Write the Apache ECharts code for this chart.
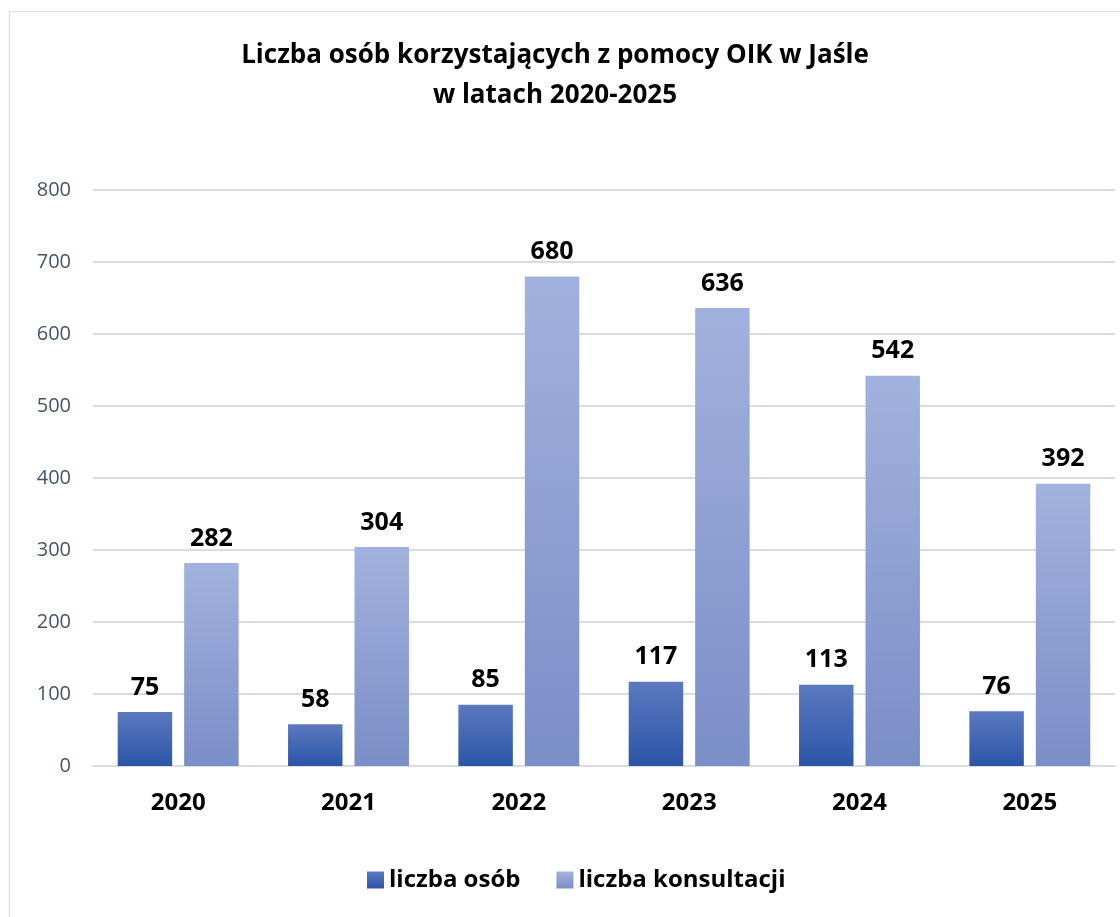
<!DOCTYPE html>
<html><head><meta charset="utf-8">
<script src="https://cdn.jsdelivr.net/npm/echarts@6/dist/echarts.min.js"></script>
<style>html,body{margin:0;padding:0;background:#fff}#c{width:1120px;height:917px}</style>
</head><body><div id="c"></div>
<script>
const years = ['2020','2021','2022','2023','2024','2025'];
const osob = [75, 58, 85, 117, 113, 76];
const konsultacji = [282, 304, 680, 636, 542, 392];
const yTicks = [0, 100, 200, 300, 400, 500, 600, 700, 800];

const FONT = '"Open Sans", "Noto Sans", sans-serif';
const chart = echarts.init(document.getElementById('c'), null, {renderer: 'canvas'});
const grad = (top, bottom) => new echarts.graphic.LinearGradient(0, 0, 0, 1, [{offset: 0, color: top}, {offset: 1, color: bottom}]);
const lbl = {show: true, position: 'top', distance: 12, color: '#000', fontWeight: 'bold', fontSize: 25, fontFamily: FONT};
chart.setOption({
  backgroundColor: '#fff',
  animation: false,
  graphic: [{type: 'rect', shape: {x: 9.5, y: 11.5, width: 1200, height: 1000}, style: {fill: 'none', stroke: '#dde2e8', lineWidth: 1.5}, z: -1}],
  title: {
    text: 'Liczba osób korzystających z pomocy OIK w Jaśle\nw latach 2020-2025',
    left: 550, textAlign: 'center', top: 31,
    textStyle: {fontFamily: FONT, fontWeight: 'bold', fontSize: 26, color: '#000', lineHeight: 40}
  },
  legend: {
    bottom: 20, left: 362, itemWidth: 17, itemHeight: 17, itemGap: 36,
    icon: 'rect',
    textStyle: {fontFamily: FONT, fontWeight: 'bold', fontSize: 24, color: '#000'}
  },
  grid: {left: 93, right: 5, top: 190, bottom: 151, containLabel: false},
  xAxis: {
    type: 'category', data: years,
    axisLine: {lineStyle: {color: '#d9dde3', width: 2}},
    axisTick: {show: false},
    axisLabel: {fontFamily: FONT, fontWeight: 'bold', fontSize: 24, color: '#000', margin: 25}
  },
  yAxis: {
    type: 'value', min: yTicks[0], max: yTicks[yTicks.length - 1], interval: 100,
    axisLine: {show: false}, axisTick: {show: false},
    splitLine: {lineStyle: {color: '#d9dde3', width: 2}},
    axisLabel: {fontFamily: FONT, fontSize: 20, color: '#44546a', margin: 22}
  },
  series: [
    {name: 'liczba osób', type: 'bar', data: osob, barGap: '22%', barCategoryGap: '29%',
     itemStyle: {color: grad('#5b79c0', '#2b55a7')}, label: lbl},
    {name: 'liczba konsultacji', type: 'bar', data: konsultacji,
     itemStyle: {color: grad('#a2b2de', '#7a8ec7')}, label: lbl}
  ]
});
</script></body></html>
